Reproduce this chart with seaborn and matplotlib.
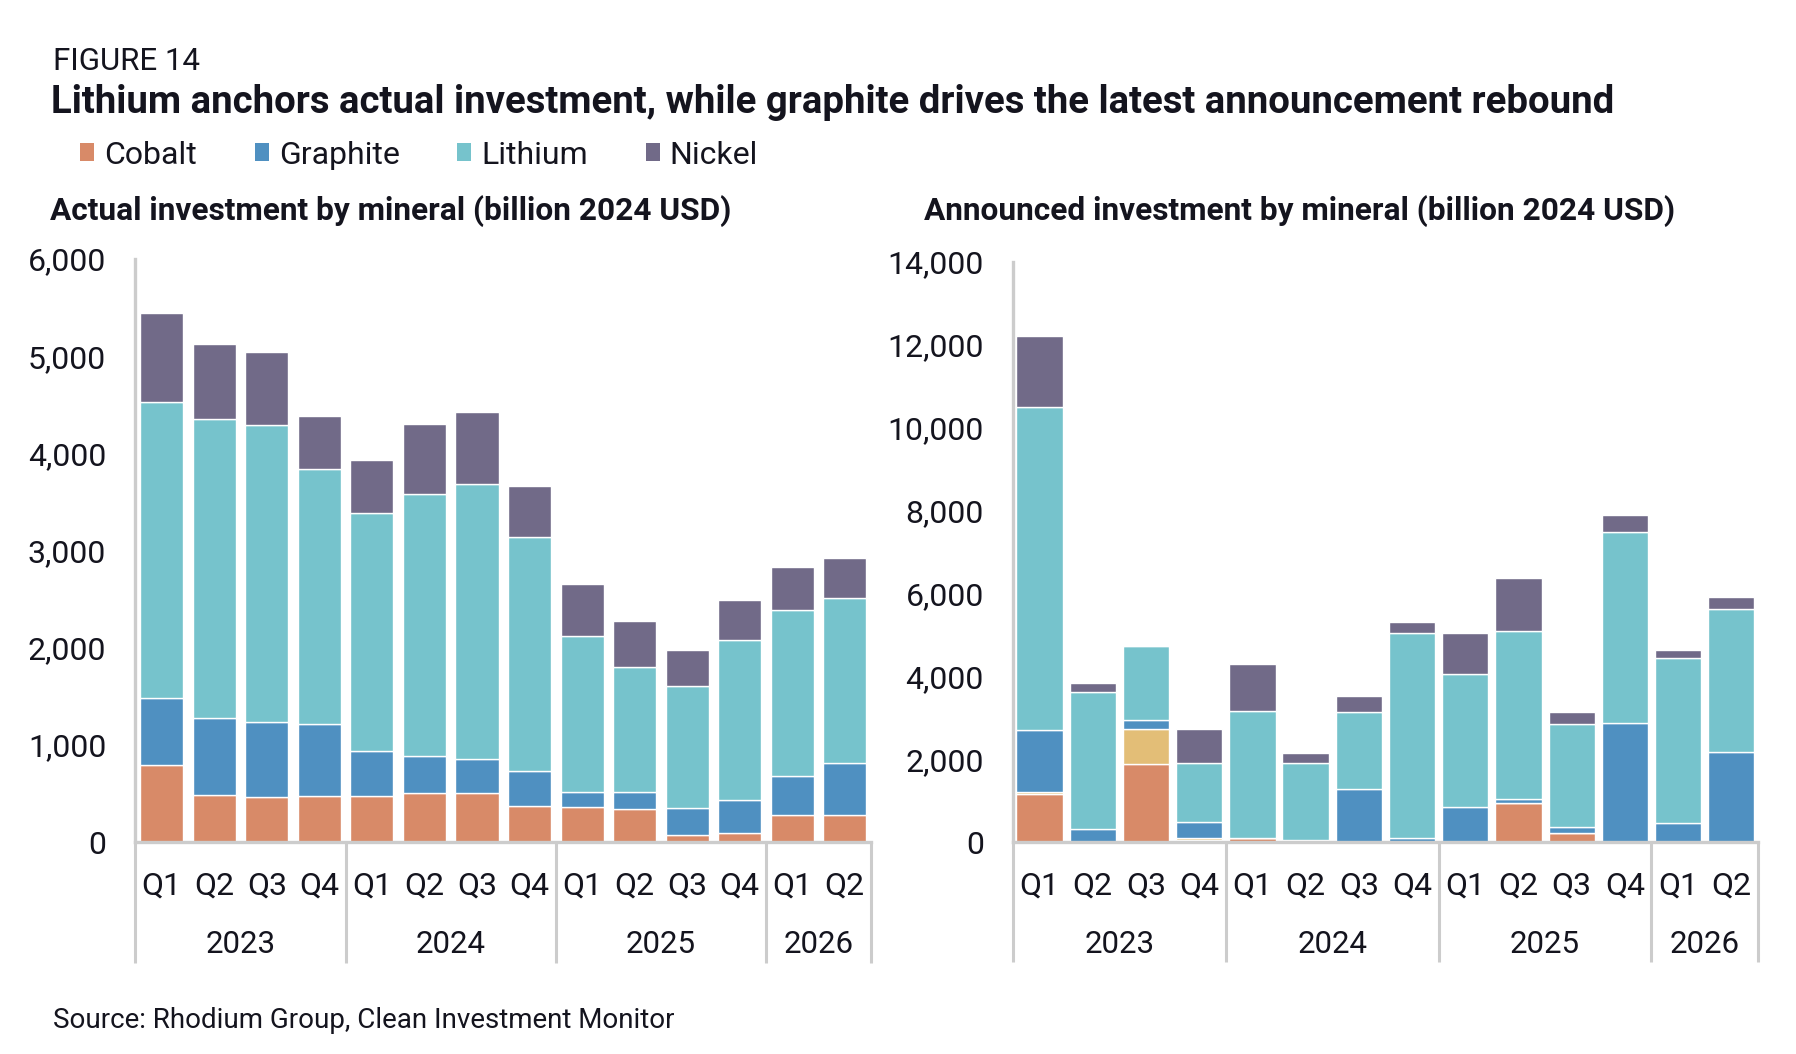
import pandas as pd
import matplotlib.pyplot as plt
import matplotlib.patches as mpatches
from matplotlib.ticker import FuncFormatter
import seaborn as sns

# ---- data ----
quarters = ["Q1", "Q2", "Q3", "Q4", "Q1", "Q2", "Q3", "Q4", "Q1", "Q2", "Q3", "Q4", "Q1", "Q2"]
years = ["2023", "2024", "2025", "2026"]
year_centers = [1.5, 5.5, 9.5, 12.5]
year_breaks = [-0.5, 3.5, 7.5, 11.5, 13.5]

# actual investment
cobalt_actual = [790, 487, 465, 478, 474, 500, 508, 367, 363, 342, 68, 98, 282, 282]
graphite_actual = [696, 794, 773, 735, 461, 384, 346, 367, 154, 175, 286, 338, 393, 534]
lithium_actual = [3040, 3070, 3049, 2626, 2455, 2698, 2827, 2404, 1605, 1285, 1251, 1639, 1708, 1695]
nickel_actual = [922, 773, 751, 550, 538, 722, 743, 521, 538, 474, 372, 414, 444, 410]

# announced investment
cobalt_ann = [1167, 0, 1890, 56, 105, 0, 0, 0, 0, 949, 217, 0, 0, 0]
other_ann = [40, 0, 845, 30, 0, 40, 0, 0, 0, 0, 0, 0, 0, 0]
graphite_ann = [1488, 306, 217, 405, 0, 0, 1271, 105, 845, 89, 145, 2880, 467, 2164]
lithium_ann = [7806, 3306, 1777, 1424, 3065, 1875, 1879, 4935, 3213, 4052, 2498, 4605, 3982, 3467]
nickel_ann = [1723, 225, 0, 820, 1139, 241, 374, 271, 982, 1273, 269, 411, 190, 291]

colors = {
    "Cobalt": "#D88A68",
    "Other": "#E3BE77",
    "Graphite": "#4F90C1",
    "Lithium": "#76C3CC",
    "Nickel": "#716A88",
}
legend_names = ["Cobalt", "Graphite", "Lithium", "Nickel"]
# histplot stacks the last hue level at the bottom
stack_order = ["Nickel", "Lithium", "Graphite", "Other", "Cobalt"]


def long_frame(series):
    rows = []
    for name, vals in series.items():
        for i, v in enumerate(vals):
            rows.append({"idx": i, "mineral": name, "value": v})
    return pd.DataFrame(rows)


df_actual = long_frame({"Cobalt": cobalt_actual, "Graphite": graphite_actual,
                        "Lithium": lithium_actual, "Nickel": nickel_actual})
df_ann = long_frame({"Cobalt": cobalt_ann, "Other": other_ann, "Graphite": graphite_ann,
                     "Lithium": lithium_ann, "Nickel": nickel_ann})

sns.set_theme(style="white")
plt.rcParams["font.family"] = ["Roboto", "DejaVu Sans"]
text_color = "#14141e"
grey = "#cccccc"

fig = plt.figure(figsize=(17.96, 10.54), dpi=100)
ax1 = fig.add_axes([0.0754, 0.2011, 0.4096, 0.5532])
ax2 = fig.add_axes([0.5640, 0.2011, 0.4148, 0.5503])


def draw(ax, df, ymax, shrink):
    order = [m for m in stack_order if m in df["mineral"].unique()]
    sns.histplot(data=df, x="idx", hue="mineral", weights="value", discrete=True,
                 multiple="stack", hue_order=order, palette=colors, shrink=shrink,
                 edgecolor="white", linewidth=1.0, alpha=1, legend=False, ax=ax)
    ax.set_xlim(-0.5, 13.5)
    ax.set_ylim(0, ymax)
    ax.set_xlabel("")
    ax.set_ylabel("")
    ax.set_xticks(range(len(quarters)))
    ax.set_xticklabels(quarters)
    ax.yaxis.set_major_formatter(FuncFormatter(lambda v, p: f"{int(v):,}"))
    ax.tick_params(axis="both", length=0, labelsize=23, colors=text_color)
    ax.tick_params(axis="y", pad=21)
    ax.tick_params(axis="x", pad=21)
    for s in ["top", "right"]:
        ax.spines[s].set_visible(False)
    for s in ["left", "bottom"]:
        ax.spines[s].set_color(grey)
        ax.spines[s].set_linewidth(2.4)
    tr = ax.get_xaxis_transform()
    for xb in year_breaks:
        ax.plot([xb, xb], [0, -0.2075], transform=tr, color=grey, lw=2.2,
                clip_on=False, solid_capstyle="butt")
    for xc, yr in zip(year_centers, years):
        ax.text(xc, -0.176, yr, transform=tr, ha="center", va="center",
                fontsize=22.5, color=text_color)


draw(ax1, df_actual, 6000, 0.82)
ax1.set_yticks(range(0, 6001, 1000))
draw(ax2, df_ann, 14000, 0.87)
ax2.set_yticks(range(0, 14001, 2000))

fig.text(0.0295, 1 - 61 / 1054, "FIGURE 14", fontsize=22.5, color=text_color, va="center")
fig.text(0.0285, 1 - 103 / 1054,
         "Lithium anchors actual investment, while graphite drives the latest announcement rebound",
         fontsize=27.6, fontweight="bold", color=text_color, va="center")
fig.text(0.0281, 1 - 211 / 1054, "Actual investment by mineral (billion 2024 USD)",
         fontsize=22.8, fontweight="bold", color=text_color, va="center")
fig.text(0.5145, 1 - 211 / 1054, "Announced investment by mineral (billion 2024 USD)",
         fontsize=22.8, fontweight="bold", color=text_color, va="center")
fig.text(0.0295, 1 - 1020 / 1054, "Source: Rhodium Group, Clean Investment Monitor",
         fontsize=20, color=text_color, va="center")

handles = [mpatches.Patch(facecolor=colors[n], edgecolor="none", label=n) for n in legend_names]
fig.legend(handles=handles, loc="center left", bbox_to_anchor=(80 / 1796, 1 - 155 / 1054),
           ncol=4, frameon=False, fontsize=23, handlelength=0.44, handleheight=0.48,
           handletextpad=0.32, columnspacing=1.8, borderpad=0, borderaxespad=0,
           labelcolor=text_color)

fig.savefig("out.png", dpi=100, facecolor="white")
